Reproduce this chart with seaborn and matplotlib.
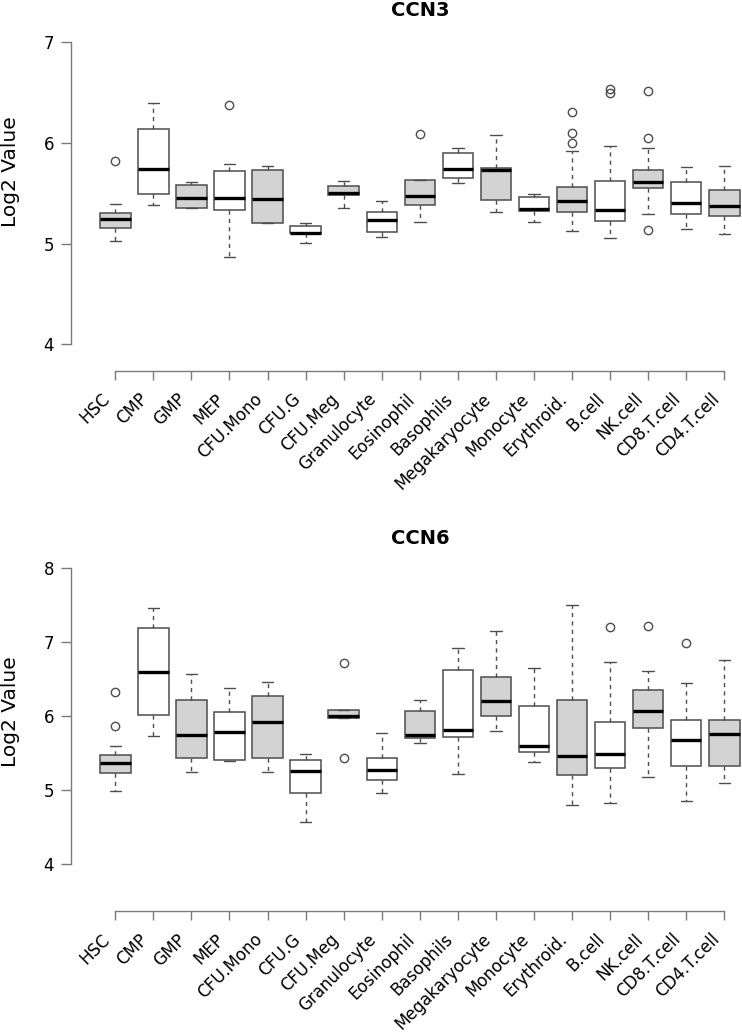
import numpy as np
import matplotlib
matplotlib.use("Agg")
import matplotlib.pyplot as plt
import matplotlib.transforms as mtransforms
import seaborn as sns

# cell types along the x axis
cell_types = ["HSC", "CMP", "GMP", "MEP", "CFU.Mono", "CFU.G", "CFU.Meg",
              "Granulocyte", "Eosinophil", "Basophils", "Megakaryocyte",
              "Monocyte", "Erythroid.", "B.cell", "NK.cell", "CD8.T.cell",
              "CD4.T.cell"]

# CCN3 box statistics (log2)
ccn3_whislo = [5.03, 5.38, 5.35, 4.87, 5.20, 5.01, 5.35, 5.06, 5.21, 5.60, 5.31, 5.21, 5.12, 5.05, 5.29, 5.14, 5.09]
ccn3_q1     = [5.15, 5.49, 5.35, 5.33, 5.20, 5.10, 5.48, 5.11, 5.38, 5.65, 5.43, 5.32, 5.31, 5.22, 5.55, 5.29, 5.27]
ccn3_med    = [5.24, 5.74, 5.45, 5.45, 5.44, 5.10, 5.50, 5.23, 5.47, 5.74, 5.73, 5.34, 5.42, 5.33, 5.61, 5.40, 5.37]
ccn3_q3     = [5.30, 6.14, 5.58, 5.72, 5.73, 5.17, 5.57, 5.31, 5.63, 5.90, 5.75, 5.46, 5.56, 5.62, 5.73, 5.61, 5.53]
ccn3_whishi = [5.39, 6.39, 5.61, 5.79, 5.77, 5.20, 5.62, 5.42, 5.63, 5.95, 6.08, 5.49, 5.92, 5.97, 5.95, 5.76, 5.77]
ccn3_fliers = [[5.82], [], [], [6.37], [], [], [], [], [6.09], [], [], [],
               [6.31, 6.10, 6.00], [6.53, 6.49], [6.51, 6.05, 5.13], [], []]

# CCN6 box statistics (log2)
ccn6_whislo = [4.99, 5.73, 5.24, 5.39, 5.25, 4.57, 5.97, 4.96, 5.63, 5.22, 5.80, 5.38, 4.80, 4.83, 5.18, 4.85, 5.10]
ccn6_q1     = [5.23, 6.01, 5.44, 5.41, 5.44, 4.96, 5.97, 5.14, 5.70, 5.71, 6.00, 5.51, 5.21, 5.30, 5.84, 5.33, 5.33]
ccn6_med    = [5.36, 6.59, 5.75, 5.79, 5.92, 5.26, 6.00, 5.27, 5.74, 5.81, 6.20, 5.59, 5.46, 5.49, 6.07, 5.68, 5.76]
ccn6_q3     = [5.48, 7.18, 6.22, 6.05, 6.27, 5.40, 6.08, 5.43, 6.07, 6.62, 6.53, 6.14, 6.22, 5.92, 6.35, 5.95, 5.94]
ccn6_whishi = [5.59, 7.46, 6.57, 6.38, 6.46, 5.49, 6.08, 5.77, 6.21, 6.91, 7.15, 6.65, 7.50, 6.73, 6.61, 6.44, 6.76]
ccn6_fliers = [[6.33, 5.87], [], [], [], [], [], [6.72, 5.44], [], [], [], [], [],
               [], [7.20], [7.21], [6.99], []]

sns.set_style("ticks")
plt.rcParams["font.family"] = ["DejaVu Sans"]
plt.rcParams["text.color"] = "black"
plt.rcParams["xtick.labelcolor"] = "black"
plt.rcParams["ytick.labelcolor"] = "black"

W, H = 742, 1035
fig = plt.figure(figsize=(W / 100, H / 100), dpi=100)

edge = "#4d4d4d"
axis_col = "#7a7a7a"


def box_stats(lo, q1, med, q3, hi, fl):
    return [dict(whislo=a, q1=b, med=c, q3=d, whishi=e, fliers=f)
            for a, b, c, d, e, f in zip(lo, q1, med, q3, hi, fl)]


def draw_panel(rect, stats, ylim, yticks, title, title_top, ylabel_y):
    ax = fig.add_axes(rect)
    pos = np.arange(len(cell_types))
    bp = ax.bxp(stats, positions=pos, widths=0.8, capwidths=0.3,
                patch_artist=True, showfliers=True,
                boxprops=dict(edgecolor=edge, linewidth=1.1),
                medianprops=dict(color="black", linewidth=2.4, solid_capstyle="butt"),
                whiskerprops=dict(color=edge, linewidth=1.0, linestyle=(0, (3, 3))),
                capprops=dict(color=edge, linewidth=1.0),
                flierprops=dict(marker="o", markerfacecolor="none",
                                markeredgecolor=edge, markersize=6, markeredgewidth=1.0))
    for i, patch in enumerate(bp["boxes"]):
        patch.set_facecolor("#d3d3d3" if i % 2 == 0 else "white")

    ax.set_ylim(*ylim)
    ax.set_xlim(-1.172, 16.465)
    ax.set_yticks(yticks)
    ax.set_yticklabels([str(t) for t in yticks])
    ax.set_xticks(pos)
    ax.set_xticklabels(cell_types)

    sns.despine(ax=ax)
    ax.spines["left"].set_bounds(yticks[0], yticks[-1])
    ax.spines["bottom"].set_bounds(0, len(cell_types) - 1)
    for s in ("left", "bottom"):
        ax.spines[s].set_color(axis_col)
        ax.spines[s].set_linewidth(1.0)

    ax.tick_params(axis="y", direction="out", length=7, width=1.0,
                   color=axis_col, labelsize=12, pad=5)
    ax.tick_params(axis="x", direction="out", length=6.5, width=1.0,
                   color=axis_col, labelsize=12, pad=12)
    offset = mtransforms.ScaledTranslation(-8 / 100, 0, fig.dpi_scale_trans)
    for lab in ax.get_xticklabels():
        lab.set_rotation(45)
        lab.set_rotation_mode("anchor")
        lab.set_ha("right")
        lab.set_va("center")
        lab.set_transform(lab.get_transform() + offset)

    # y label and title placed in figure pixels, like the R layout
    fig.text(11 / W, 1 - ylabel_y / H, "Log2 Value", rotation=90,
             ha="center", va="center", fontsize=14.5)
    fig.text(420 / W, 1 - title_top / H, title, ha="center", va="top",
             fontsize=14, fontweight="bold")
    return ax


ccn3_stats = box_stats(ccn3_whislo, ccn3_q1, ccn3_med, ccn3_q3, ccn3_whishi, ccn3_fliers)
ccn6_stats = box_stats(ccn6_whislo, ccn6_q1, ccn6_med, ccn6_q3, ccn6_whishi, ccn6_fliers)

left = 70.7 / W
width = 671.3 / W
draw_panel([left, 1 - 370.7 / H, width, 340.8 / H], ccn3_stats,
           (3.738, 7.12), [4, 5, 6, 7], "CCN3", 1.5, 172)
draw_panel([left, 1 - 911 / H, width, 355.2 / H], ccn6_stats,
           (3.370, 8.16), [4, 5, 6, 7, 8], "CCN6", 529.5, 712)

fig.savefig("out.png", dpi=100)
